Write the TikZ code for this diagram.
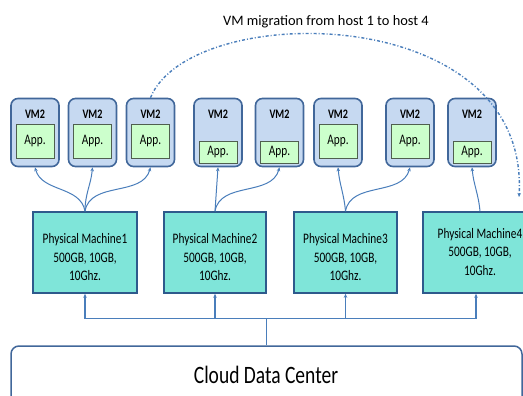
\documentclass[tikz,border=0pt]{standalone}
\usepackage{fontspec}
\setmainfont{Carlito}
\newfontfamily\narrowfont{Carlito}[FakeStretch=0.78]
\usetikzlibrary{positioning, arrows.meta}

\definecolor{vmfill}{HTML}{C6D9F1}
\definecolor{vmedge}{HTML}{41679A}
\definecolor{appfill}{HTML}{CCFFCC}
\definecolor{appedge}{HTML}{4F5F4F}
\definecolor{pmfill}{HTML}{7FE5D9}
\definecolor{pmedge}{HTML}{2E5A8C}
\definecolor{linkblue}{HTML}{4A7EBB}

\begin{document}
\begin{tikzpicture}[
    x=1pt,
    y=-1pt,
    >={Stealth[length=4pt, width=3.5pt]},
    vm/.style={draw=vmedge, fill=vmfill, line width=1.6pt, rounded corners=7pt,
               minimum width=48pt, minimum height=68pt, inner sep=0pt},
    vmlabel/.style={font=\narrowfont\fontsize{13}{15}\selectfont\bfseries},
    appbox/.style={draw=appedge, fill=appfill, line width=0.9pt,
                   minimum width=38pt, inner sep=0pt, font=\narrowfont\fontsize{14.5}{16}\selectfont},
    pm/.style={draw=pmedge, fill=pmfill, line width=1.6pt,
               minimum height=81pt, inner sep=0pt},
    pmtext/.style={align=center, font=\narrowfont\fontsize{14.5}{18.5}\selectfont},
    link/.style={draw=linkblue, line width=1pt},
    bus/.style={draw=linkblue, line width=1.5pt},
    migrate/.style={draw=linkblue, line width=1.4pt, dash pattern=on 3pt off 2pt on 1pt off 2pt}
]
\useasboundingbox (0,0) rectangle (523,396);
\clip (0,0) rectangle (523,396);

%---------------- Virtual machines ----------------
\foreach \name/\x/\ay/\ah in {V1/35/141.5/34, V2/92.5/141.5/34, V3/150.5/141.5/34,
                              V4/218/152.5/22, V5/279.5/152.5/22, V6/338/141.5/34,
                              V7/410/141.5/34, V8/472/152.5/22} {
    \node[vm] (\name) at (\x,132.5) {};
    \node[vmlabel] (L\name) at (\x,114) {VM2};
    \node[appbox, minimum height=\ah pt] (A\name) at (\x,\ay) {App.};
}

%---------------- Physical machines ----------------
\foreach \i/\x/\w/\tx/\ty in {1/85/104/85/257.5, 2/215/102/215/257.5,
                              3/345.5/103/345.5/257.5, 4/476/106/480/252} {
    \node[pm, minimum width=\w pt] (P\i) at (\x,252.5) {};
    \node[pmtext] (T\i) at (\tx,\ty) {Physical Machine\i\\500GB, 10GB,\\10Ghz.};
}

%---------------- Cloud data center ----------------
\node[draw=vmedge, line width=1.5pt, rounded corners=8pt, fill=white,
      minimum width=511pt, minimum height=64pt] (C) at (266.5,378) {};
\node[font=\narrowfont\fontsize{25}{28}\selectfont] (Ct) at (266,375) {Cloud Data Center};

%---------------- Connections ----------------
\draw[bus] (C.north) -- ++(0,-27) coordinate (J);
\foreach \i in {1,...,4} {
    \draw[bus, ->] (J) -| (P\i.south);
}

\draw[link, ->] (P1.north) to[out=100, in=-75] (V1.south);
\draw[link, ->] (P1.north) to[out=90, in=-95] (V2.south);
\draw[link, ->] (P1.north) to[out=80, in=-105] (V3.south);
\draw[link, ->] (P2.north) -- (V4.south);
\draw[link, ->] (P2.north) to[out=80, in=-105] (V5.south);
\draw[link, ->] (P3.north) to[out=95, in=-85] (V6.south);
\draw[link, ->] (P3.north) to[out=80, in=-105] (V7.south);
\draw[link, ->] (P4.north -| T4) to[out=95, in=-85] (V8.south);

%---------------- Migration ----------------
\coordinate (migend) at (519,197);
\draw[migrate, ->] (V3.north) .. controls (190,0) and (530,0) .. (migend);
\node[font=\fontsize{14.4}{16}\selectfont] (title) at (326,22) {VM migration from host 1 to host 4};
\end{tikzpicture}
\end{document}
